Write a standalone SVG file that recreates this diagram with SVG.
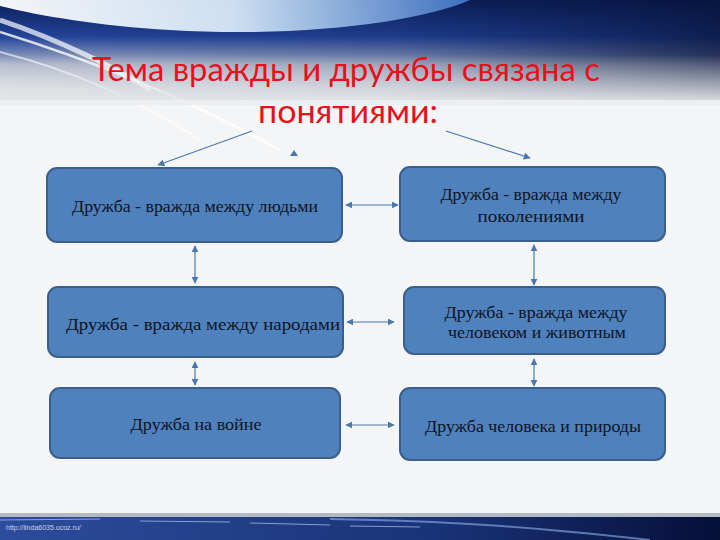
<svg xmlns="http://www.w3.org/2000/svg" width="720" height="540" viewBox="0 0 720 540">
<defs>
<linearGradient id="topV" x1="0" y1="0" x2="0" y2="1">
<stop offset="0" stop-color="#0b1d55"/>
<stop offset="0.35" stop-color="#23449a"/>
<stop offset="0.62" stop-color="#aab3c8"/>
<stop offset="1" stop-color="#e2e3e7"/>
</linearGradient>
<linearGradient id="topH" x1="0" y1="0" x2="1" y2="0">
<stop offset="0" stop-color="#0a1a4e" stop-opacity="0"/>
<stop offset="0.55" stop-color="#0a1a4e" stop-opacity="0.2"/>
<stop offset="1" stop-color="#061238" stop-opacity="0.75"/>
</linearGradient>
<linearGradient id="swoosh" x1="0" y1="0" x2="1" y2="0">
<stop offset="0" stop-color="#ffffff"/>
<stop offset="0.5" stop-color="#d6e8f8"/>
<stop offset="1" stop-color="#3f74c4"/>
</linearGradient>
<linearGradient id="band" x1="0" y1="0" x2="0" y2="1">
<stop offset="0" stop-color="#e6e7ea" stop-opacity="0"/>
<stop offset="1" stop-color="#e4e5e8"/>
</linearGradient>
<linearGradient id="foot" x1="0" y1="0" x2="1" y2="0">
<stop offset="0" stop-color="#2c4c9c"/>
<stop offset="0.6" stop-color="#1a3378"/>
<stop offset="1" stop-color="#050f3a"/>
</linearGradient>
<marker id="ah" viewBox="0 0 10 10" refX="9" refY="5" markerWidth="7" markerHeight="7" orient="auto-start-reverse" markerUnits="userSpaceOnUse">
<path d="M0,0 L10,5 L0,10 Z" fill="#4a78ae"/>
</marker>
<style>
.box{fill:#4f81bd;stroke:#3a5f8c;stroke-width:2}
.lbl{font-family:"Liberation Serif","Times New Roman",serif;font-size:17px;fill:#0f1424;text-anchor:middle}
.ttl{font-family:"Lato","Liberation Sans",sans-serif;font-size:33px;fill:#e8101a;text-anchor:middle}
.con{stroke:#4a78ae;stroke-width:1.2;fill:none}
</style>
</defs>

<g id="background">
<rect x="0" y="0" width="720" height="540" fill="#f4f5f7"/>
<rect x="0" y="0" width="720" height="104" fill="url(#topV)"/>
<rect x="0" y="0" width="720" height="104" fill="url(#topH)"/>
<path d="M0,0 L470,0 C420,22 300,38 170,30 C100,26 40,16 0,6 Z" fill="url(#swoosh)" opacity="0.95"/>
<path d="M0,20 C60,40 120,70 150,90" stroke="#ffffff" stroke-width="5" opacity="0.7" fill="none"/>
<path d="M0,32 C90,60 190,100 280,150" stroke="#ffffff" stroke-width="2.5" opacity="0.8" fill="none"/>
<path d="M0,52 C70,70 140,100 200,140" stroke="#ffffff" stroke-width="2" opacity="0.6" fill="none"/>
<rect x="0" y="55" width="720" height="49" fill="url(#band)"/>
<rect x="0" y="100" width="720" height="5" fill="#eceef1"/>
<rect x="0" y="513" width="720" height="4" fill="#b4bac4"/>
<rect x="0" y="517" width="720" height="23" fill="url(#foot)"/>
<path d="M0,520 L100,519 M140,521 L230,522 M250,523 L330,525 M350,526 L420,527" stroke="#cfe0ff" stroke-width="1" opacity="0.6"/>
<path d="M330,519 C450,521 520,526 650,540" stroke="#8fb3ea" stroke-width="2" opacity="0.6" fill="none"/>
<text x="6" y="530" font-family="Liberation Sans, sans-serif" font-size="7" fill="#c9d3ea">http://linda6035.ucoz.ru/</text>
</g>

<g id="title">
<text class="ttl" x="346" y="81" textLength="508" lengthAdjust="spacingAndGlyphs">Тема вражды и дружбы связана с</text>
<text class="ttl" x="348" y="123" textLength="180" lengthAdjust="spacingAndGlyphs">понятиями:</text>
</g>

<g id="connectors">
<line class="con" x1="252" y1="131" x2="158" y2="165" marker-end="url(#ah)"/>
<line class="con" x1="446" y1="131" x2="530" y2="158" marker-end="url(#ah)"/>
<path d="M294,150 L298,156 L290,156 Z" fill="#4a78ae"/>
<line class="con" x1="346" y1="205" x2="398" y2="205" marker-start="url(#ah)" marker-end="url(#ah)"/>
<line class="con" x1="195" y1="246" x2="195" y2="283" marker-start="url(#ah)" marker-end="url(#ah)"/>
<line class="con" x1="534" y1="245" x2="534" y2="285" marker-start="url(#ah)" marker-end="url(#ah)"/>
<line class="con" x1="347" y1="322" x2="394" y2="322" marker-start="url(#ah)" marker-end="url(#ah)"/>
<line class="con" x1="195" y1="362" x2="195" y2="385" marker-start="url(#ah)" marker-end="url(#ah)"/>
<line class="con" x1="534" y1="359" x2="534" y2="386" marker-start="url(#ah)" marker-end="url(#ah)"/>
<line class="con" x1="346" y1="425" x2="394" y2="425" marker-start="url(#ah)" marker-end="url(#ah)"/>
</g>

<g id="n1">
<rect class="box" x="47" y="168" width="295" height="74" rx="10"/>
<text class="lbl" x="195" y="212" textLength="246" lengthAdjust="spacingAndGlyphs">Дружба - вражда между людьми</text>
</g>
<g id="n2">
<rect class="box" x="400" y="167" width="265" height="74" rx="10"/>
<text class="lbl" x="531" y="200" textLength="181" lengthAdjust="spacingAndGlyphs">Дружба - вражда между</text>
<text class="lbl" x="531" y="222" textLength="107" lengthAdjust="spacingAndGlyphs">поколениями</text>
</g>
<g id="n3">
<rect class="box" x="48" y="287" width="295" height="70" rx="10"/>
<text class="lbl" x="203" y="330" textLength="274" lengthAdjust="spacingAndGlyphs">Дружба - вражда между народами</text>
</g>
<g id="n4">
<rect class="box" x="404" y="287" width="261" height="67" rx="10"/>
<text class="lbl" x="536" y="318" textLength="183" lengthAdjust="spacingAndGlyphs">Дружба - вражда между</text>
<text class="lbl" x="537" y="338" textLength="178" lengthAdjust="spacingAndGlyphs">человеком и животным</text>
</g>
<g id="n5">
<rect class="box" x="50" y="388" width="290" height="70" rx="10"/>
<text class="lbl" x="196" y="430" textLength="131" lengthAdjust="spacingAndGlyphs">Дружба на войне</text>
</g>
<g id="n6">
<rect class="box" x="400" y="388" width="265" height="72" rx="10"/>
<text class="lbl" x="533" y="432" textLength="216" lengthAdjust="spacingAndGlyphs">Дружба человека и природы</text>
</g>
</svg>
